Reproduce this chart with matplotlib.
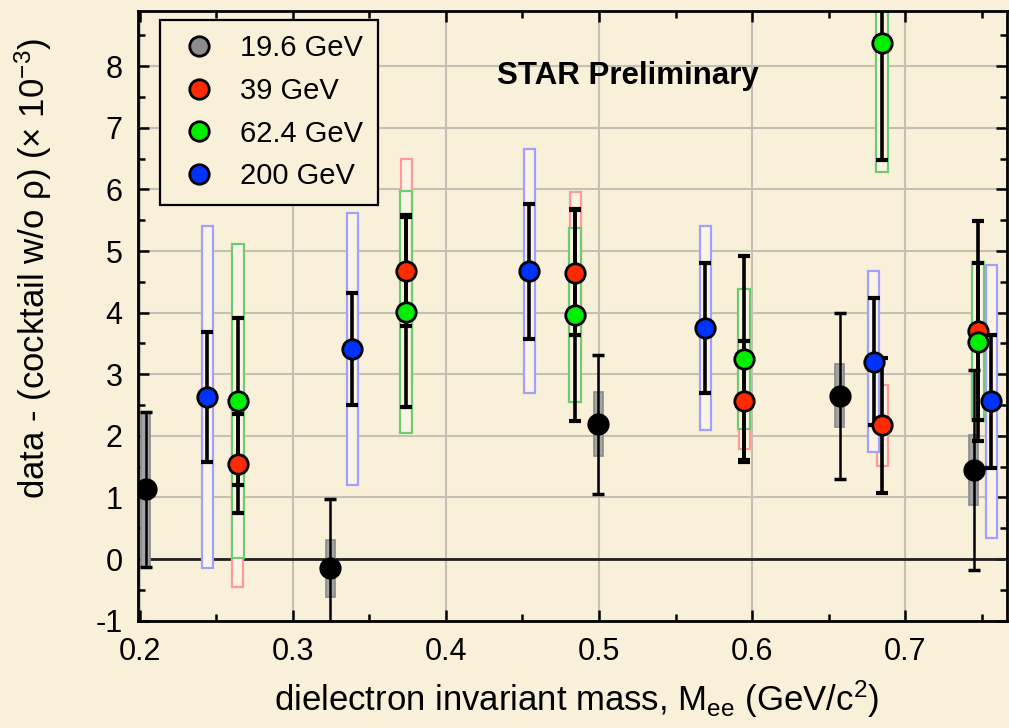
import numpy as np
import matplotlib
matplotlib.use('Agg')
import matplotlib.pyplot as plt
from matplotlib.patches import Rectangle
from matplotlib.lines import Line2D
from matplotlib.ticker import MultipleLocator

plt.rcParams['font.family'] = ['Liberation Sans', 'DejaVu Sans']
plt.rcParams['mathtext.default'] = 'regular'
plt.rcParams['axes.unicode_minus'] = False

# 19.6 GeV
x_196 = [0.204, 0.3246, 0.4996, 0.6573, 0.7449]
y_196 = [1.13, -0.15, 2.19, 2.65, 1.45]
stat_196 = [1.26, 1.12, 1.13, 1.35, 1.62]
sys_196 = [1.26, 0.46, 0.52, 0.51, 0.57]

# 39 GeV
x_39 = [0.264, 0.374, 0.4846, 0.5949, 0.685, 0.7478]
y_39 = [1.55, 4.68, 4.65, 2.57, 2.17, 3.70]
stat_39 = [0.80, 0.90, 1.02, 0.97, 1.10, 1.79]
sys_39 = [2.01, 1.81, 1.31, 0.78, 0.66, 1.00]

# 62.4 GeV
x_624 = [0.264, 0.374, 0.4846, 0.5949, 0.6847, 0.7476]
y_624 = [2.56, 4.01, 3.96, 3.25, 8.38, 3.53]
stat_624 = [1.35, 1.54, 1.72, 1.67, 1.91, 1.27]
sys_624 = [2.55, 1.96, 1.41, 1.14, 2.10, 1.29]

# 200 GeV
x_200 = [0.244, 0.339, 0.4546, 0.5694, 0.6796, 0.7563]
y_200 = [2.63, 3.41, 4.67, 3.75, 3.20, 2.56]
stat_200 = [1.06, 0.91, 1.10, 1.06, 1.03, 1.08]
sys_200 = [2.77, 2.20, 1.98, 1.65, 1.47, 2.21]

labels = ['19.6 GeV', '39 GeV', '62.4 GeV', '200 GeV']

bg = '#F9F0D9'
fig = plt.figure(figsize=(10.09, 7.28), dpi=100, facecolor=bg)
ax = fig.add_axes([137.7 / 1009, 1 - 620.7 / 728, 869.3 / 1009, 610 / 728])
ax.set_facecolor(bg)


def sys_boxes(xs, ys, ss, width, edge, face, lw, z):
    for x, y, s in zip(xs, ys, ss):
        ax.add_patch(Rectangle((x - width / 2, y - s), width, 2 * s,
                               facecolor=face, edgecolor=edge, lw=lw, zorder=z))


sys_boxes(x_196, y_196, sys_196, 0.0058, '#8a8a8a', '#a3a3a3', 1.2, 2)
sys_boxes(x_39, y_39, sys_39, 0.0072, '#ff9a9a', '#fbf4e4', 1.6, 2.1)
sys_boxes(x_624, y_624, sys_624, 0.0078, '#6fcb6f', '#fbf4e4', 1.6, 2.2)
sys_boxes(x_200, y_200, sys_200, 0.0072, '#a0a0ff', '#fbf4e4', 1.6, 2.3)

# statistical errors
ax.errorbar(x_196, y_196, yerr=stat_196, fmt='none', ecolor='black',
            elinewidth=1.8, capsize=4, capthick=2.5, zorder=3)
for xs, ys, es in [(x_39, y_39, stat_39), (x_624, y_624, stat_624),
                   (x_200, y_200, stat_200)]:
    ax.errorbar(xs, ys, yerr=es, fmt='none', ecolor='black',
                elinewidth=2.6, capsize=4, capthick=3, zorder=3)

ax.plot(x_196, y_196, 'o', color='black', ms=16, mew=0, zorder=4)
ax.plot(x_39, y_39, 'o', color='#ff2a00', mec='black', ms=14, mew=2, zorder=4)
ax.plot(x_624, y_624, 'o', color='#00ee00', mec='black', ms=14, mew=2, zorder=4.1)
ax.plot(x_200, y_200, 'o', color='#0033ff', mec='black', ms=14, mew=2, zorder=4.2)

ax.axhline(0, color='#222222', lw=2, zorder=1.5)

ax.set_xlim(0.1987, 0.7665)
ax.set_ylim(-1, 8.9)
ax.xaxis.set_major_locator(MultipleLocator(0.1))
ax.xaxis.set_minor_locator(MultipleLocator(0.05))
ax.yaxis.set_major_locator(MultipleLocator(1))
ax.yaxis.set_minor_locator(MultipleLocator(0.5))
ax.set_xticks([0.2, 0.3, 0.4, 0.5, 0.6, 0.7])
ax.set_xticklabels(['0.2', '0.3', '0.4', '0.5', '0.6', '0.7'])
ax.grid(True, which='major', color='#c4c0b4', lw=1.5, zorder=1)
ax.set_axisbelow(True)
ax.tick_params(which='both', direction='in', top=True, right=True,
               width=1.8, labelsize=22)
ax.tick_params(which='major', length=8)
ax.tick_params(which='minor', length=5)
ax.tick_params(axis='x', pad=12)
ax.tick_params(axis='y', pad=11)
for sp in ax.spines.values():
    sp.set_linewidth(2)

ax.set_xlabel('dielectron invariant mass, M$_{ee}$ (GeV/c$^{2}$)', fontsize=25)
ax.xaxis.set_label_coords(0.5045, -0.095)
ax.set_ylabel(r'data - (cocktail w/o $\rho$) ($\times$ 10$^{-3}$)', fontsize=25)
ax.yaxis.set_label_coords(-0.096, 0.577)

ax.text(0.4337, 7.84, 'STAR Preliminary', fontsize=22.5, fontweight='bold',
        va='center', ha='left', zorder=5)

handles = [Line2D([], [], ls='none', marker='o', ms=14, mew=2, mec='black', color=c)
           for c in ['#8c8c8c', '#ff2a00', '#00ee00', '#0033ff']]
leg = ax.legend(handles, labels, loc='upper left', bbox_to_anchor=(0.0257, 0.985),
                borderaxespad=0, fontsize=21, frameon=True, fancybox=False,
                framealpha=1, facecolor=bg, edgecolor='black',
                handletextpad=0.55, labelspacing=0.5, borderpad=0.5,
                handlelength=1.7)
leg.get_frame().set_linewidth(1.6)
leg.set_zorder(6)

fig.savefig('out.png', dpi=100, facecolor=bg)
